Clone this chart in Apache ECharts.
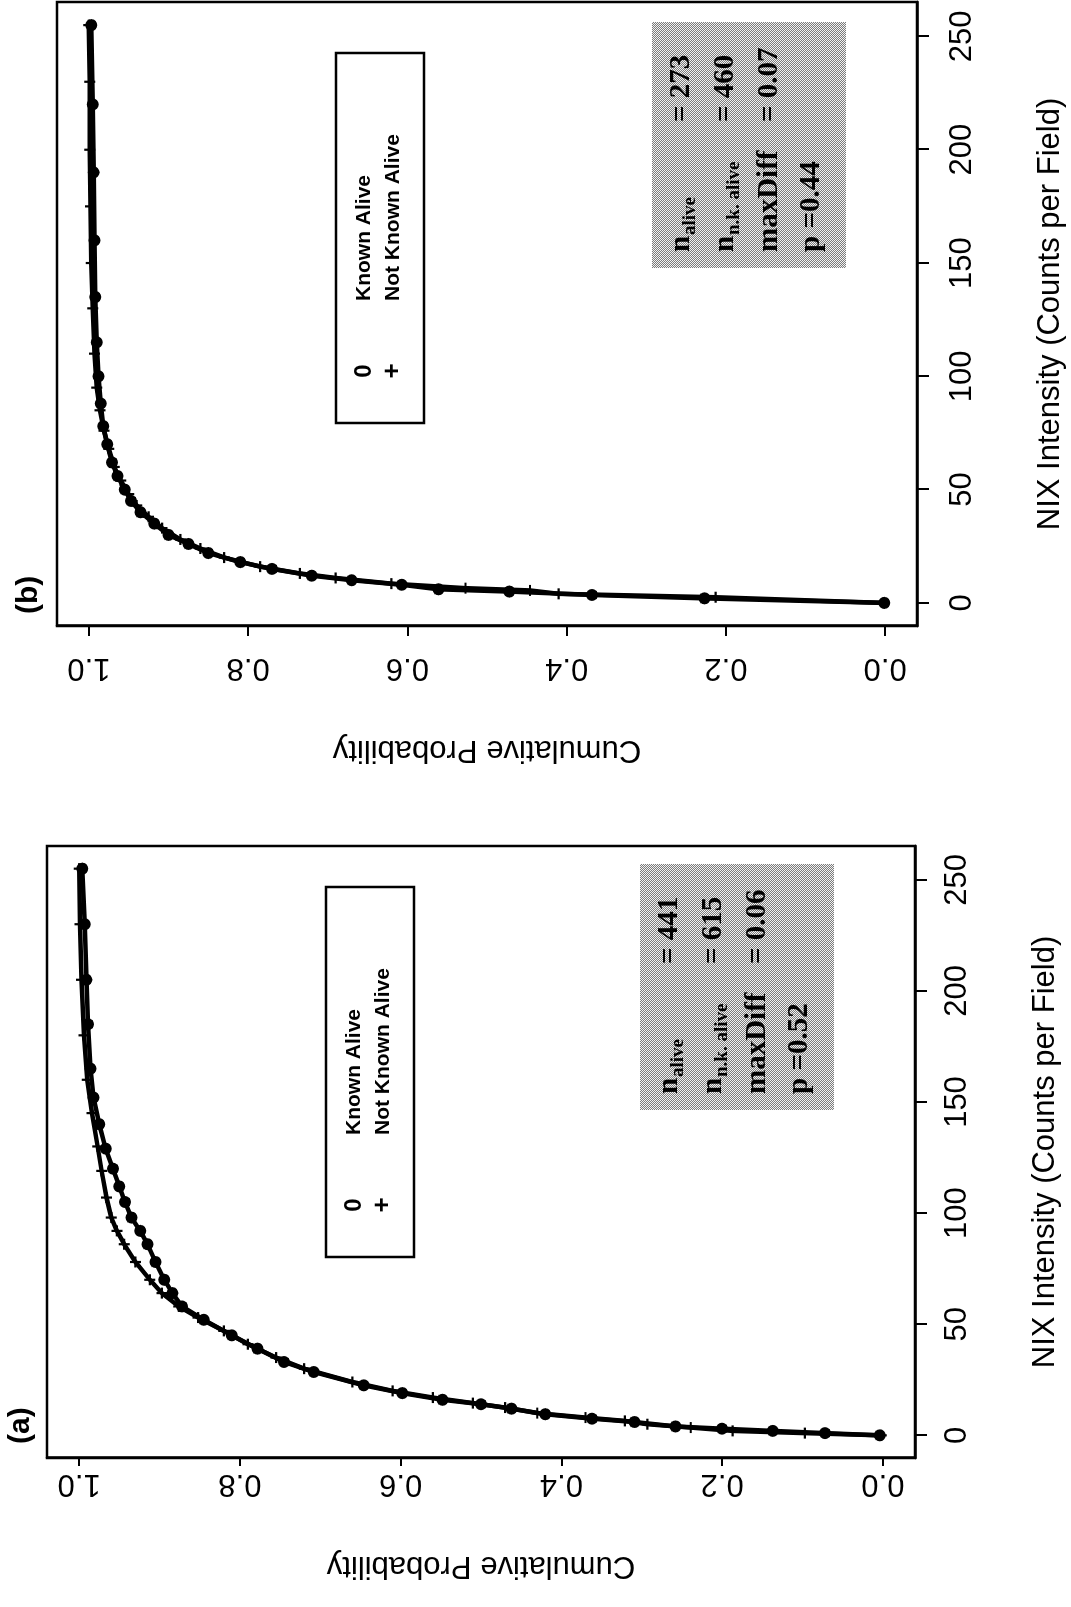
<!DOCTYPE html>
<html>
<head>
<meta charset="utf-8">
<script src="https://cdn.jsdelivr.net/npm/echarts@6/dist/echarts.min.js"></script>
<style>
  html, body { margin: 0; padding: 0; background: #fff; width: 1071px; height: 1607px; overflow: hidden; }
  /* the figure is laid out landscape and turned a quarter turn counter-clockwise onto the portrait page */
  #page { position: absolute; left: 0; top: 0; width: 1607px; height: 1071px;
          transform-origin: 0 0; transform: translate(0, 1607px) rotate(-90deg); }
  #chart { width: 1607px; height: 1071px; background: #fff; }
</style>
</head>
<body>
<div id="page"><div id="chart"></div></div>
<script>
// ---- data -------------------------------------------------------------
const intensityTicks = [0, 50, 100, 150, 200, 250];
const probTicks = [0, 0.2, 0.4, 0.6, 0.8, 1.0];
const groupNames = ['Known Alive', 'Not Known Alive'];
const groupMarks = ['0', '+'];
const panelTags = ['(a)', '(b)'];

// panel (a): empirical cumulative distributions
const aKnownX = [0, 1, 2, 3, 4, 6, 7.5, 9.5, 12, 14, 16, 19, 22.5, 28.5, 33, 39, 45, 52, 58, 64, 70, 78, 86, 92, 98, 105, 112, 120, 129, 140, 152, 165, 185, 205, 230, 255];
const aKnownY = [0.004, 0.072, 0.137, 0.2, 0.258, 0.309, 0.362, 0.42, 0.462, 0.5, 0.548, 0.598, 0.646, 0.708, 0.745, 0.778, 0.81, 0.845, 0.872, 0.884, 0.894, 0.905, 0.915, 0.924, 0.935, 0.943, 0.95, 0.958, 0.967, 0.975, 0.982, 0.986, 0.989, 0.991, 0.993, 0.996];
const aNotKnownX = [0, 1, 2, 3.5, 5, 6.5, 8, 10, 12.5, 14.5, 17, 20, 24, 30, 35, 41, 47, 53, 58, 64, 70, 78, 86, 92, 98, 107, 119, 130, 145, 160, 180, 205, 230, 255];
const aNotKnownY = [0.002, 0.097, 0.187, 0.239, 0.293, 0.321, 0.37, 0.43, 0.47, 0.51, 0.56, 0.61, 0.66, 0.72, 0.755, 0.79, 0.82, 0.852, 0.876, 0.897, 0.912, 0.93, 0.944, 0.953, 0.96, 0.966, 0.972, 0.977, 0.984, 0.99, 0.994, 0.997, 0.999, 1.0];

// panel (b)
const bKnownX = [0, 2, 3.5, 5, 6, 8, 10, 12, 15, 18, 22, 26, 30, 35, 40, 45, 50, 56, 62, 70, 78, 88, 100, 115, 135, 160, 190, 220, 255];
const bKnownY = [0.001, 0.227, 0.368, 0.472, 0.561, 0.607, 0.67, 0.72, 0.77, 0.81, 0.85, 0.875, 0.9, 0.918, 0.935, 0.947, 0.955, 0.964, 0.971, 0.977, 0.982, 0.985, 0.988, 0.99, 0.992, 0.993, 0.994, 0.995, 0.997];
const bNotKnownX = [0, 2.5, 4, 5.5, 6.5, 8.5, 11, 13, 16, 20, 24, 28, 33, 38, 43, 48, 54, 60, 68, 76, 85, 95, 110, 130, 150, 175, 200, 230, 255];
const bNotKnownY = [0.002, 0.213, 0.41, 0.446, 0.527, 0.62, 0.69, 0.735, 0.785, 0.83, 0.86, 0.885, 0.908, 0.925, 0.94, 0.95, 0.96, 0.968, 0.975, 0.981, 0.986, 0.99, 0.993, 0.995, 0.997, 0.998, 0.999, 0.999, 1.0];

// two-sample comparison summaries
const nAlive = ['441', '273'];
const nNotKnown = ['615', '460'];
const maxDiff = ['0.06', '0.07'];
const pValue = ['0.52', '0.44'];

// ---- layout -----------------------------------------------------------
const SANS = '"Liberation Sans", Arial, sans-serif';
const SERIF = '"Liberation Serif", "Times New Roman", serif';
const panels = [
  { grid: { left: 149, top: 47, width: 612, height: 868 }, legend: [350, 326], stats: [497, 640], tag: [163, 6],
    probLabelMargin: 10, probNameGap: 92, probTick: 8, intLabelMargin: 27, intNameGap: 115 },
  { grid: { left: 981, top: 57, width: 624, height: 872 }, legend: [1184, 336], stats: [1339, 652], tag: [993, 14],
    probLabelMargin: 26, probNameGap: 108, probTick: 10, intLabelMargin: 30, intNameGap: 118 }
];

const plusPath = 'path://M4,0 L6,0 L6,4 L10,4 L10,6 L6,6 L6,10 L4,10 L4,6 L0,6 L0,4 L4,4 Z';

function zip(xs, ys) { return xs.map((x, i) => [x, ys[i]]); }

// halftone tile for the summary boxes
const tile = document.createElement('canvas');
tile.width = 4; tile.height = 4;
const tctx = tile.getContext('2d');
tctx.fillStyle = '#f2f2f2'; tctx.fillRect(0, 0, 4, 4);
tctx.fillStyle = '#7c7c7c';
for (let y = 0; y < 4; y++) for (let x = 0; x < 4; x++) if ((x + y) % 2 === 0) tctx.fillRect(x, y, 1, 1);

const axisFont = { fontFamily: SANS, fontSize: 31, color: '#000' };

const grids = [], xAxes = [], yAxes = [], series = [], graphics = [];
const curves = [
  [zip(aKnownX, aKnownY), zip(aNotKnownX, aNotKnownY)],
  [zip(bKnownX, bKnownY), zip(bNotKnownX, bNotKnownY)]
];

panels.forEach((p, i) => {
  grids.push(Object.assign({ show: true, borderColor: '#000', borderWidth: 2.5, backgroundColor: 'transparent' }, p.grid));
  xAxes.push({
    gridIndex: i, type: 'value', min: -10.2, max: 265.2,
    name: 'NIX Intensity (Counts per Field)', nameLocation: 'middle', nameGap: p.intNameGap, nameMoveOverlap: false,
    nameTextStyle: axisFont,
    axisLine: { show: true, onZero: false, lineStyle: { color: '#000', width: 2.5 } },
    axisTick: { show: true, inside: false, length: 12, customValues: intensityTicks, lineStyle: { color: '#000', width: 2 } },
    axisLabel: Object.assign({ customValues: intensityTicks, margin: p.intLabelMargin }, axisFont),
    splitLine: { show: false }
  });
  yAxes.push({
    gridIndex: i, type: 'value', min: -0.04, max: 1.04,
    name: 'Cumulative Probability', nameLocation: 'middle', nameGap: p.probNameGap, nameRotate: 90, nameMoveOverlap: false,
    nameTextStyle: axisFont,
    axisLine: { show: true, onZero: false, lineStyle: { color: '#000', width: 2.5 } },
    axisTick: { show: true, inside: false, length: p.probTick, customValues: probTicks, lineStyle: { color: '#000', width: 2 } },
    axisLabel: Object.assign({ customValues: probTicks, rotate: 90, margin: p.probLabelMargin, formatter: v => v.toFixed(1) }, axisFont),
    splitLine: { show: false }
  });
  curves[i].forEach((pts, g) => {
    series.push({
      type: 'line', name: groupNames[g], xAxisIndex: i, yAxisIndex: i, data: pts,
      symbol: g === 0 ? 'circle' : plusPath, symbolSize: g === 0 ? 12 : 11, showSymbol: true,
      lineStyle: { color: '#000', width: 4.5 }, itemStyle: { color: '#000' },
      silent: true, animation: false, z: 3 + g
    });
  });

  // legend box
  const [lx, ly] = p.legend;
  graphics.push({
    type: 'group', x: lx, y: ly, z: 10,
    children: [
      { type: 'rect', shape: { x: 0, y: 0, width: 370, height: 88 }, style: { fill: '#fff', stroke: '#000', lineWidth: 2.5 } },
      { type: 'text', x: 52, y: 28, style: { text: groupMarks[0], font: 'bold 24px ' + SANS, fill: '#000', align: 'center', verticalAlign: 'middle' } },
      { type: 'text', x: 52, y: 57, style: { text: groupMarks[1], font: 'bold 26px ' + SANS, fill: '#000', align: 'center', verticalAlign: 'middle' } },
      { type: 'text', x: 122, y: 28, style: { text: groupNames[0], font: 'bold 21px ' + SANS, fill: '#000', align: 'left', verticalAlign: 'middle' } },
      { type: 'text', x: 122, y: 57, style: { text: groupNames[1], font: 'bold 21px ' + SANS, fill: '#000', align: 'left', verticalAlign: 'middle' } }
    ]
  });

  // summary box
  const [sx, sy] = p.stats;
  const big = 'bold 29px ' + SERIF, small = 'bold 19px ' + SERIF;
  const t = (x, y, text, font) => ({ type: 'text', x, y, style: { text, font, fill: '#000', align: 'left', verticalAlign: 'middle' } });
  graphics.push({
    type: 'group', x: sx, y: sy, z: 10,
    children: [
      { type: 'rect', shape: { x: 0, y: 0, width: 246, height: 194 }, style: { fill: { image: tile, repeat: 'repeat' }, stroke: null } },
      t(16, 30, 'n', big), t(33, 38, 'alive', small),
      t(146, 30, '= ' + nAlive[i], big),
      t(16, 74, 'n', big), t(33, 82, 'n.k. alive', small),
      t(146, 74, '= ' + nNotKnown[i], big),
      t(16, 118, 'maxDiff', big), t(146, 118, '= ' + maxDiff[i], big),
      t(16, 160, 'p =' + pValue[i], big)
    ]
  });

  // panel tag
  graphics.push({ type: 'text', x: p.tag[0], y: p.tag[1], z: 10,
    style: { text: panelTags[i], font: 'bold 30px ' + SANS, fill: '#000', align: 'left', verticalAlign: 'top' } });
});

const chart = echarts.init(document.getElementById('chart'), null, { renderer: 'canvas' });
chart.setOption({
  animation: false,
  backgroundColor: '#fff',
  grid: grids, xAxis: xAxes, yAxis: yAxes, series: series,
  graphic: graphics
});
</script>
</body>
</html>
